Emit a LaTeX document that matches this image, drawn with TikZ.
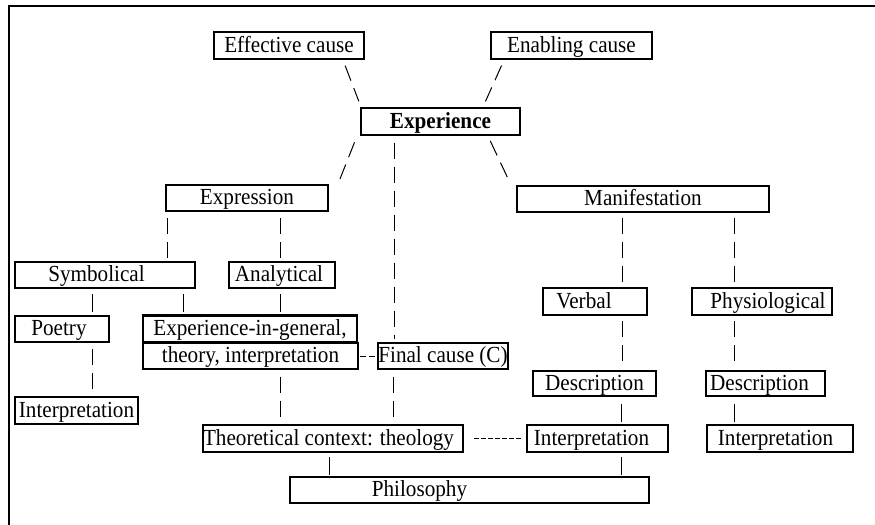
\documentclass[tikz,border=0pt]{standalone}
\usepackage{fontspec}
\setmainfont{Liberation Serif}[FakeStretch=0.92]
\begin{document}
\begin{tikzpicture}[
 x=0.75pt, y=-0.75pt,
 box/.style 2 args={draw, line width=1.6pt, inner sep=0pt, anchor=center,
   minimum width=#1*0.75pt, minimum height=#2*0.75pt,
   text height=14pt, text depth=4.25pt,
   font=\fontsize{17.25pt}{20pt}\selectfont},
 dl/.style={line width=0.75pt, dash pattern=on 12pt off 6pt},
 sl/.style={line width=0.75pt},
 shortdash/.style={line width=0.75pt, dash pattern=on 4.5pt off 2.5pt},
 finedash/.style={line width=0.75pt, dash pattern=on 3.75pt off 1.5pt},
 frame/.style={line width=2pt}
]
\useasboundingbox (0,0) rectangle (875,525);
\draw[frame] (9,525) -- (9,6) -- (875,6);

% nodes
\node[box={150}{27}] (eff) at (289,45.5) {Effective cause};
\node[box={161}{27}] (enab) at (571.5,45.5) {Enabling cause};
\node[box={159}{27}] (exp) at (440.5,121.5) {\bfseries Experience};
\node[box={162}{26}] (expr) at (247,198) {Expression};
\node[box={252}{26}] (man) at (643,199) {Manifestation};
\node[box={180}{26}] (sym) at (105,275) {Symbolical\hspace*{12.75pt}};
\node[box={106}{26}] (ana) at (282,275) {Analytical\hspace*{4.5pt}};
\node[box={94}{26}] (poetry) at (62,329) {Poetry\hspace*{4.5pt}};
\node[box={214}{27}] (eig) at (250,329) {Experience-in-general,};
\node[box={215}{26}] (thy) at (250.5,356) {theory, interpretation};
\node[box={130}{26}] (final) at (443,356) {Final cause (C)};
\node[box={123}{27}] (interpL) at (76.5,410.5) {Interpretation};
\node[box={104}{27}] (verbal) at (595,301.5) {Verbal\hspace*{16.5pt}};
\node[box={140}{27}] (phys) at (762,301.5) {\hspace*{9pt}Physiological};
\node[box={123}{25}] (descV) at (594.5,383.5) {Description};
\node[box={119}{25}] (descP) at (765.5,383.5) {Description\hspace*{9pt}};
\node[box={260}{27}] (theo) at (333,438.5) {Theoretical context: theology\hspace*{6.75pt}};
\node[box={141}{27}] (interpV) at (597.5,438.5) {Interpretation\hspace*{9pt}};
\node[box={146}{27}] (interpP) at (780,438.5) {Interpretation\hspace*{6.75pt}};
\node[box={359}{26}] (philo) at (469.5,490) {Philosophy\hspace*{75pt}};

% connectors
\draw[dl, shorten <=4.5pt, shorten >=4.5pt] (343,0 |- eff.south) -- (361,0 |- exp.north);
\draw[dl, shorten <=4.5pt, shorten >=4.5pt] (504,0 |- enab.south) -- (483,0 |- exp.north);
\draw[dl, shorten <=5pt, shorten >=4pt] (357,0 |- exp.south) -- (338,0 |- expr.north);
\draw[dl, shorten <=4pt, shorten >=4.5pt] (488,0 |- exp.south) -- (511,0 |- man.north);
\draw[dl, shorten <=5pt, shorten >=2pt] (394,0 |- exp.south) -- (394,0 |- final.north);

\draw[dl, shorten <=4.5pt, shorten >=1.5pt] (167,0 |- expr.south) -- (167,0 |- sym.north);
\draw[dl, shorten <=4.5pt, shorten >=1.5pt] (280,0 |- expr.south) -- (280,0 |- ana.north);
\draw[sl, shorten <=4pt, shorten >=2pt] (92,0 |- sym.south) -- (92,0 |- poetry.north);
\draw[sl, shorten <=4pt, shorten >=2pt] (183,0 |- sym.south) -- (183,0 |- eig.north);
\draw[sl, shorten <=4pt, shorten >=2pt] (280,0 |- ana.south) -- (280,0 |- eig.north);

\draw[shortdash, shorten <=0.5pt] (thy.east) -- (final.west);
\draw[dl, shorten <=4.5pt, shorten >=1.5pt] (92,0 |- poetry.south) -- (92,0 |- interpL.north);
\draw[dl, shorten <=5pt, shorten >=2pt] (280,0 |- thy.south) -- (280,0 |- theo.north);
\draw[dl, shorten <=5pt, shorten >=2pt] (393,0 |- final.south) -- (393,0 |- theo.north);
\draw[finedash, shorten <=7.5pt, shorten >=3.75pt] (theo.east) -- (interpV.west);
\draw[sl, shorten <=3pt, shorten >=1pt] (329,0 |- theo.south) -- (329,0 |- philo.north);
\draw[sl, shorten <=3pt, shorten >=1pt] (621,0 |- interpV.south) -- (621,0 |- philo.north);

\draw[dl, shorten <=4pt, shorten >=1pt] (622,0 |- man.south) -- (622,0 |- verbal.north);
\draw[dl, shorten <=4pt, shorten >=1pt] (734,0 |- man.south) -- (734,0 |- phys.north);
\draw[dl, shorten <=4pt, shorten >=2pt] (622,0 |- verbal.south) -- (622,0 |- descV.north);
\draw[dl, shorten <=4pt, shorten >=2pt] (734,0 |- phys.south) -- (734,0 |- descP.north);
\draw[sl, shorten <=5pt, shorten >=1.5pt] (621,0 |- descV.south) -- (621,0 |- interpV.north);
\draw[sl, shorten <=5pt, shorten >=1.5pt] (734,0 |- descP.south) -- (734,0 |- interpP.north);
\end{tikzpicture}
\end{document}
